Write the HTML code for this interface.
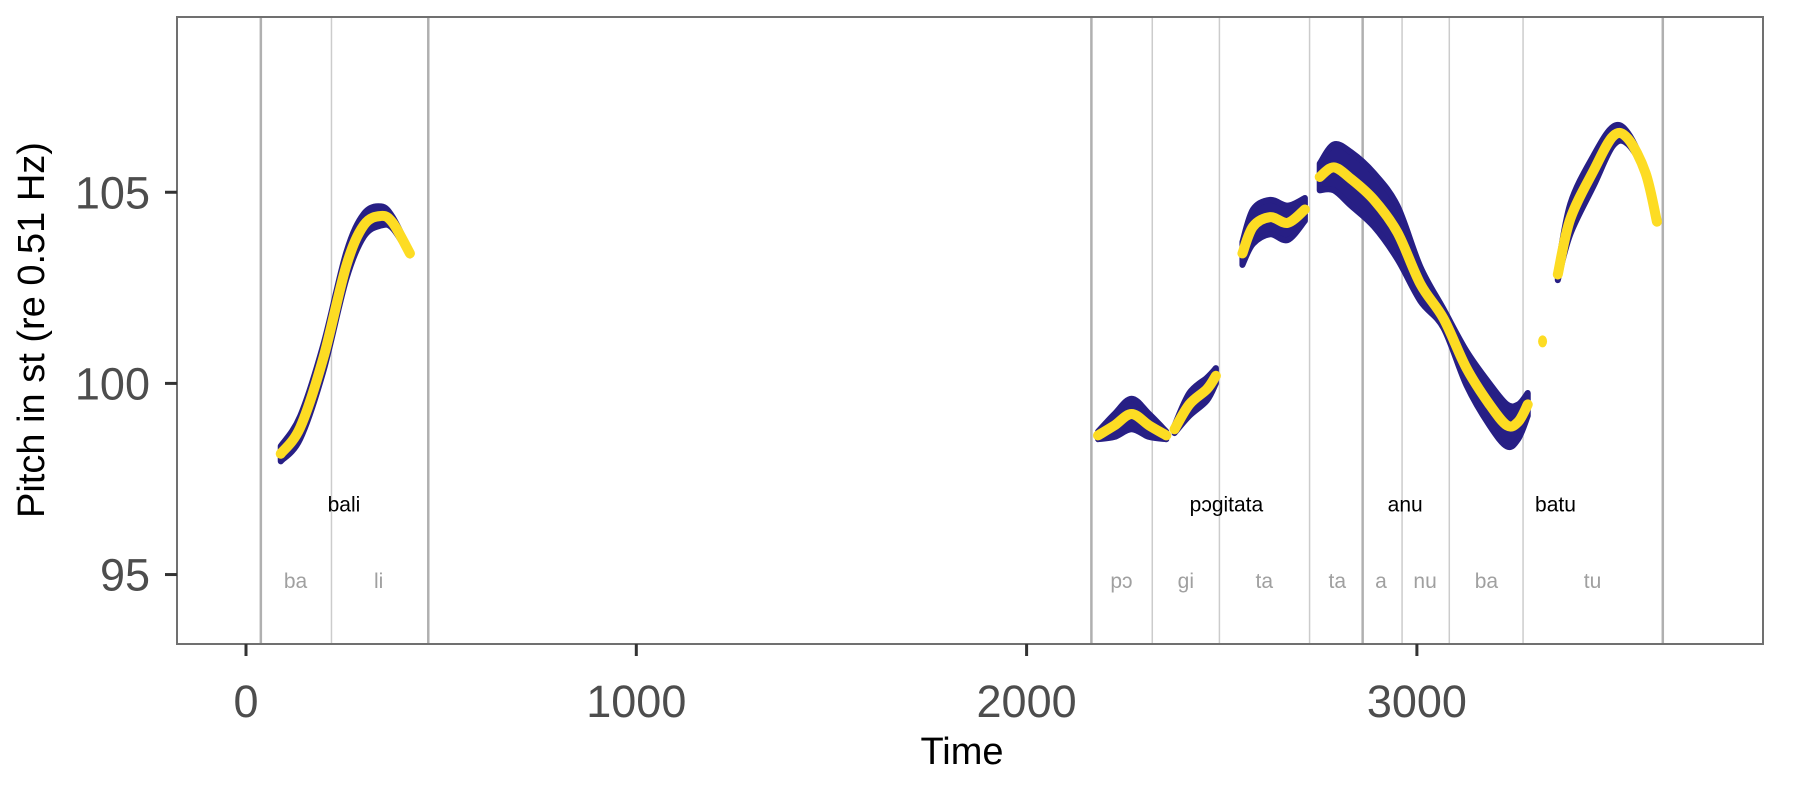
<!DOCTYPE html>
<html><head><meta charset="utf-8"><style>
html,body{margin:0;padding:0;background:#fff;}
svg{display:block;font-family:"Liberation Sans",sans-serif;}
</style></head><body>
<svg id="chart" width="1811" height="787" viewBox="0 0 1811 787">
<rect x="0" y="0" width="1811" height="787" fill="#fff"/>
<g id="vlines"></g>
<g id="bands"></g>
<g id="curves"></g>
<g id="labels"></g>
<rect x="177" y="17" width="1586" height="627" fill="none" stroke="#707070" stroke-width="2"/>
<g id="axes"></g>
<text x="962" y="764" font-size="38" text-anchor="middle" fill="#000">Time</text>
<text transform="translate(44,330) rotate(-90)" font-size="38" text-anchor="middle" fill="#000">Pitch in st (re 0.51 Hz)</text>
</svg>
<script>
const xTicks = [0, 1000, 2000, 3000];
const yTicks = [95, 100, 105];
const boundaries = [38, 219, 467, 2166, 2322, 2494, 2725, 2861, 2962, 3083, 3272, 3630];
const boundaryMajor = [1, 0, 1, 1, 0, 0, 0, 1, 0, 0, 0, 1];
const words = ["bali", "pɔgitata", "anu", "batu"];
const wordTimes = [251, 2512, 2970, 3355];
const syllables = ["ba", "li", "pɔ", "gi", "ta", "ta", "a", "nu", "ba", "tu"];
const syllableTimes = [127, 340, 2243, 2408, 2609, 2796, 2908, 3021, 3178, 3450];
const segTimes = [
  [89, 139, 198, 257, 302, 346, 376, 420],
  [2183, 2225, 2269, 2314, 2358],
  [2379, 2417, 2462, 2485],
  [2553, 2580, 2624, 2669, 2713],
  [2751, 2787, 2831, 2890, 2950, 3009, 3068, 3127, 3186, 3231, 3260, 3284],
  [3322],
  [3361, 3393, 3453, 3503, 3541, 3586, 3615]
];
const segPitch = [
  [98.16, 98.85, 100.66, 103.08, 104.14, 104.38, 104.2, 103.4],
  [98.64, 98.9, 99.2, 98.9, 98.64],
  [98.8, 99.45, 99.85, 100.2],
  [103.4, 104.1, 104.35, 104.2, 104.55],
  [105.4, 105.65, 105.35, 104.8, 103.95, 102.6, 101.7, 100.4, 99.45, 98.9, 99.0, 99.45],
  [101.1],
  [102.85, 104.3, 105.57, 106.47, 106.4, 105.5, 104.23]
];
const segBand = [
  [0.2, 0.3, 0.35, 0.35, 0.3, 0.25, 0.15, 0.05],
  [0.1, 0.3, 0.4, 0.3, 0.1],
  [0.1, 0.3, 0.3, 0.2],
  [0.3, 0.45, 0.45, 0.45, 0.3],
  [0.35, 0.6, 0.7, 0.7, 0.7, 0.45, 0.25, 0.45, 0.55, 0.55, 0.45, 0.3],
  [0],
  [0.15, 0.4, 0.4, 0.25, 0.15, 0.05, 0.0]
];
const X = t => 246 + t * 0.3903;
const Y = v => 383.4 - (v - 100) * 38.23;
const NS = "http://www.w3.org/2000/svg";
function mk(tag, attrs, parent) {
  const e = document.createElementNS(NS, tag);
  for (const k in attrs) e.setAttribute(k, attrs[k]);
  parent.appendChild(e);
  return e;
}
function smooth(pts) {
  if (pts.length < 2) return "";
  let d = "M" + pts[0][0] + "," + pts[0][1];
  for (let i = 0; i < pts.length - 1; i++) {
    const p0 = pts[i - 1] || pts[i], p1 = pts[i], p2 = pts[i + 1], p3 = pts[i + 2] || p2;
    const c1x = p1[0] + (p2[0] - p0[0]) / 6, c1y = p1[1] + (p2[1] - p0[1]) / 6;
    const c2x = p2[0] - (p3[0] - p1[0]) / 6, c2y = p2[1] - (p3[1] - p1[1]) / 6;
    d += " C" + c1x + "," + c1y + " " + c2x + "," + c2y + " " + p2[0] + "," + p2[1];
  }
  return d;
}
const vl = document.getElementById("vlines");
boundaries.forEach((b, i) => {
  const l = mk("line", {x1: X(b), x2: X(b), y1: 17, y2: 644, stroke: boundaryMajor[i] ? "#b0b0b0" : "#cccccc", "stroke-width": boundaryMajor[i] ? 2.5 : 1.5}, vl);
  
  
});
const bg = document.getElementById("bands"), cg = document.getElementById("curves");
segTimes.forEach((ts, s) => {
  const up = ts.map((t, i) => [X(t), Y(segPitch[s][i] + segBand[s][i])]);
  const lo = ts.map((t, i) => [X(t), Y(segPitch[s][i] - segBand[s][i])]).reverse();
  if (ts.length > 1) {
    const d = smooth(up) + " L" + smooth(lo).slice(1) + " Z";
    const p = mk("path", {d: d, fill: "#271f85", stroke: "#271f85", "stroke-width": 6, "stroke-linejoin": "round"}, bg);
    
    
    const pts = ts.map((t, i) => [X(t), Y(segPitch[s][i])]);
    const c = mk("path", {d: smooth(pts), fill: "none", stroke: "#fddc23", "stroke-width": 10, "stroke-linecap": "round", "stroke-linejoin": "round"}, cg);
    
    
  } else {
    const c = mk("ellipse", {cx: X(ts[0]), cy: Y(segPitch[s][0]), rx: 4.5, ry: 6, fill: "#fddc23"}, cg);
    
    
  }
});
const lg = document.getElementById("labels");
words.forEach((w, i) => {
  const t = mk("text", {x: X(wordTimes[i]), y: Y(96.83) + 7, "font-size": 21, "text-anchor": "middle", fill: "#000"}, lg);
  t.textContent = w;
  
  
});
syllables.forEach((w, i) => {
  const t = mk("text", {x: X(syllableTimes[i]), y: Y(94.83) + 7, "font-size": 21, "text-anchor": "middle", fill: "#a0a0a0"}, lg);
  t.textContent = w;
  
  
});
const ax = document.getElementById("axes");
xTicks.forEach(v => {
  const l = mk("line", {x1: X(v), x2: X(v), y1: 644, y2: 656, stroke: "#333", "stroke-width": 3}, ax);
  
  
  const t = mk("text", {x: X(v), y: 717, "font-size": 45, "text-anchor": "middle", fill: "#4d4d4d"}, ax);
  t.textContent = v;
  
  
});
yTicks.forEach(v => {
  const l = mk("line", {x1: 165, x2: 177, y1: Y(v), y2: Y(v), stroke: "#333", "stroke-width": 3}, ax);
  
  
  const t = mk("text", {x: 150, y: Y(v) + 16, "font-size": 45, "text-anchor": "end", fill: "#4d4d4d"}, ax);
  t.textContent = v;
  
  
});
</script>
</body></html>
